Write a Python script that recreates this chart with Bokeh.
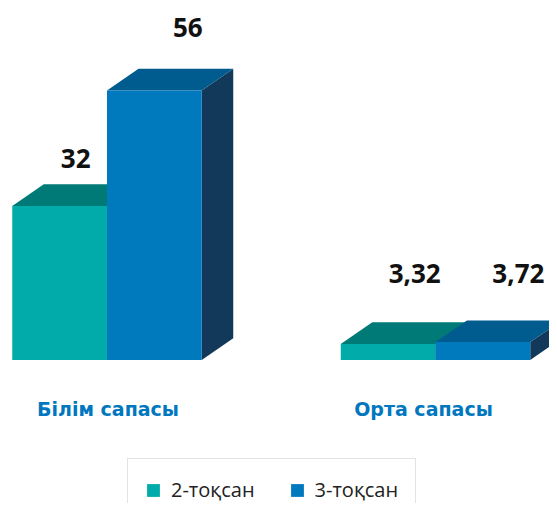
from bokeh.plotting import figure
from bokeh.models import Range1d, Legend, LegendItem, ColumnDataSource
from bokeh.embed import file_html
from bokeh.resources import INLINE
from bokeh.core.properties import value

# ---- data ----
categories = ["Білім сапасы", "Орта сапасы"]
series = ["2-тоқсан", "3-тоқсан"]
q2 = [32, 3.32]
q3 = [56, 3.72]
series_values = [q2, q3]

# ---- styles ----
front_colors = ["#00ABAA", "#0079BD"]
top_colors = ["#007A77", "#005B8E"]
side_colors = ["#0B5D5C", "#12385A"]
cat_color = "#0077BE"
FONT = "Open Sans"
CAT_FONT = "DejaVu Sans"

W, H = 549, 503
y_start, y_end = -29.82, 74.70
px_per_unit = H / (y_end - y_start)
bar_w = 0.2884
depth_x = 0.0959
depth_y = 21.7 / px_per_unit

# label offsets (screen px), per series then per category
label_dx = [[16, 26.5], [33.5, 35.5]]
label_dy = [[-47, -71], [-63, -69]]
cat_dx = [1, -12]

p = figure(width=W, height=H, output_backend="svg", toolbar_location=None,
           x_range=Range1d(-0.3242, 1.3470), y_range=Range1d(y_start, y_end),
           x_axis_location=None, y_axis_location=None, min_border=0,
           outline_line_color=None, background_fill_color="white",
           border_fill_color="white")
p.grid.visible = False

front_renderers = []
for s, vals in enumerate(series_values):
    n = len(vals)
    centers = [i + (s - 0.5) * bar_w for i in range(n)]
    left = [c - bar_w / 2 for c in centers]
    right = [c + bar_w / 2 for c in centers]
    # side faces
    side_xs = [[r, r + depth_x, r + depth_x, r] for r in right]
    side_ys = [[0, depth_y, v + depth_y, v] for v in vals]
    p.patches(side_xs, side_ys, fill_color=side_colors[s], line_color=None)
    # top faces
    top_xs = [[l, r, r + depth_x, l + depth_x] for l, r in zip(left, right)]
    top_ys = [[v, v, v + depth_y, v + depth_y] for v in vals]
    p.patches(top_xs, top_ys, fill_color=top_colors[s], line_color=None)
    # front faces
    src = ColumnDataSource(dict(left=left, right=right, top=vals, bottom=[0] * n))
    r = p.quad(left="left", right="right", top="top", bottom="bottom", source=src,
               fill_color=front_colors[s], line_color=None)
    front_renderers.append(r)

# value labels (drawn after all bars)
for s, vals in enumerate(series_values):
    n = len(vals)
    centers = [i + (s - 0.5) * bar_w for i in range(n)]
    texts = [f"{v:g}".replace(".", ",") for v in vals]
    lsrc = ColumnDataSource(dict(x=centers, y=vals, t=texts,
                                 xo=label_dx[s], yo=label_dy[s]))
    p.text(x="x", y="y", text="t", x_offset="xo", y_offset="yo", source=lsrc,
           text_align="center", text_baseline="alphabetic",
           text_font=value(FONT), text_font_style="bold",
           text_font_size="26px", text_color="#111111")

# category labels
csrc = ColumnDataSource(dict(x=list(range(len(categories))), y=[0] * len(categories),
                             t=categories, xo=cat_dx))
p.text(x="x", y="y", text="t", x_offset="xo", y_offset=49, source=csrc,
       text_align="center", text_baseline="alphabetic",
       text_font=value(CAT_FONT), text_font_style="bold",
       text_font_size="19px", text_color=cat_color)

legend = Legend(items=[LegendItem(label=series[i], renderers=[front_renderers[i]])
                       for i in range(len(series))],
                location=(127, -18), orientation="horizontal",
                border_line_color="#C8C8C8", border_line_width=1,
                background_fill_color="white", background_fill_alpha=1.0,
                padding=17, spacing=34, glyph_width=16, glyph_height=16,
                label_standoff=10, label_height=20, margin=0,
                label_text_font=FONT, label_text_font_size="20px",
                label_text_color="#222222")
p.add_layout(legend, "center")

open("out.html", "w").write(file_html(p, INLINE))
